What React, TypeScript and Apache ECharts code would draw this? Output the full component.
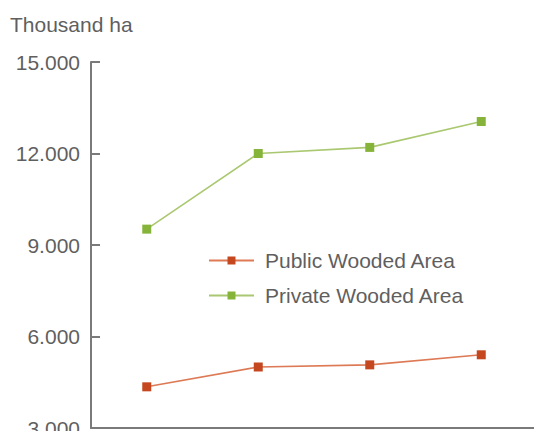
import React, { useEffect, useRef } from "react";
import * as echarts from "echarts";

const categories = ["1", "2", "3", "4"];
const publicWooded = [4350, 5000, 5070, 5400];
const privateWooded = [9520, 12000, 12200, 13050];
const yTicks = [3000, 6000, 9000, 12000, 15000];
const unitLabel = "Thousand ha";

export default function App() {
  const ref = useRef<HTMLDivElement>(null);
  useEffect(() => {
    const chart = echarts.init(ref.current!, null, { renderer: "svg" });
    const font = "'Liberation Sans', Arial, sans-serif";
    const textColor = "#5f5f5f";
    chart.setOption({
      animation: false,
      backgroundColor: "#ffffff",
      grid: {
        left: 91,
        top: 62,
        width: 446,
        height: 366,
        containLabel: false,
        outerBoundsMode: "none",
      },
      graphic: [
        {
          type: "text",
          left: 10,
          top: 14,
          style: { text: unitLabel, fontSize: 21, fontFamily: font, fill: textColor },
        },
      ],
      legend: {
        orient: "vertical",
        left: 203,
        top: 245,
        itemWidth: 45,
        itemHeight: 10,
        itemGap: 14,
        textStyle: { fontSize: 21, fontFamily: font, color: textColor, padding: [0, 0, 0, 6] },
        data: ["Public Wooded Area", "Private Wooded Area"],
      },
      xAxis: {
        type: "category",
        data: categories,
        boundaryGap: true,
        axisLine: { lineStyle: { color: "#7a7a7a", width: 2 } },
        axisTick: { inside: true, length: 9, lineStyle: { color: "#7a7a7a", width: 2 } },
        axisLabel: { show: false },
      },
      yAxis: {
        type: "value",
        min: 3000,
        max: 15000,
        interval: 3000,
        splitLine: { show: false },
        axisLine: { show: true, lineStyle: { color: "#7a7a7a", width: 2 } },
        axisTick: { show: true, inside: true, length: 9, lineStyle: { color: "#7a7a7a", width: 2 } },
        axisLabel: {
          margin: 11,
          fontSize: 21,
          fontFamily: font,
          color: textColor,
          formatter: (v: number) => (yTicks.includes(v) ? (v / 1000).toFixed(3) : ""),
        },
      },
      series: [
        {
          name: "Public Wooded Area",
          type: "line",
          data: publicWooded,
          symbol: "rect",
          symbolSize: 9,
          itemStyle: { color: "#c4471f" },
          lineStyle: { color: "#dd7a55", width: 1.6 },
        },
        {
          name: "Private Wooded Area",
          type: "line",
          data: privateWooded,
          symbol: "rect",
          symbolSize: 9,
          itemStyle: { color: "#86b43a" },
          lineStyle: { color: "#aac870", width: 1.6 },
        },
      ],
    });
    return () => chart.dispose();
  }, []);
  return <div ref={ref} style={{ position: "fixed", left: 0, top: 0, width: 534, height: 431 }} />;
}
